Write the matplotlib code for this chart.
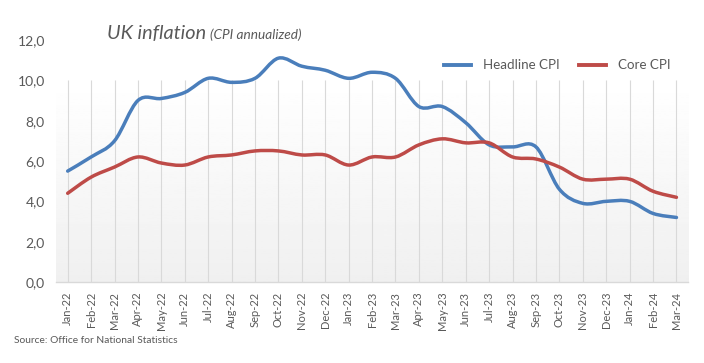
# UK inflation chart - headline vs core CPI
import numpy as np
import matplotlib.pyplot as plt
from matplotlib.path import Path
from matplotlib.patches import PathPatch
from matplotlib.lines import Line2D

# ---------------- Data ----------------
months = ["Jan-22", "Feb-22", "Mar-22", "Apr-22", "May-22", "Jun-22", "Jul-22",
          "Aug-22", "Sep-22", "Oct-22", "Nov-22", "Dec-22", "Jan-23", "Feb-23",
          "Mar-23", "Apr-23", "May-23", "Jun-23", "Jul-23", "Aug-23", "Sep-23",
          "Oct-23", "Nov-23", "Dec-23", "Jan-24", "Feb-24", "Mar-24"]
headline = [5.5, 6.2, 7.0, 9.0, 9.1, 9.4, 10.1, 9.9, 10.1, 11.1, 10.7, 10.5, 10.1,
            10.4, 10.1, 8.7, 8.7, 7.9, 6.8, 6.7, 6.7, 4.6, 3.9, 4.0, 4.0, 3.4, 3.2]
core = [4.4, 5.2, 5.7, 6.2, 5.9, 5.8, 6.2, 6.3, 6.5, 6.5, 6.3, 6.3, 5.8,
        6.2, 6.2, 6.8, 7.1, 6.9, 6.9, 6.2, 6.1, 5.7, 5.1, 5.1, 5.1, 4.5, 4.2]
yticks = [0, 2, 4, 6, 8, 10, 12]

plt.rcParams['font.family'] = ['Lato', 'DejaVu Sans']
grey = '#595959'


def smooth_path(xs, ys):
    # excel style smoothed line: cubic bezier with catmull-rom tangents
    pts = np.column_stack([xs, ys]).astype(float)
    n = len(pts)
    verts = [pts[0]]
    codes = [Path.MOVETO]
    for i in range(n - 1):
        p0 = pts[max(i - 1, 0)]
        p1 = pts[i]
        p2 = pts[i + 1]
        p3 = pts[min(i + 2, n - 1)]
        c1 = p1 + (p2 - p0) / 6
        c2 = p2 - (p3 - p1) / 6
        verts += [c1, c2, p2]
        codes += [Path.CURVE4] * 3
    return Path(verts, codes)


fig = plt.figure(figsize=(7.04, 3.63), dpi=100)
ax = fig.add_axes([0.0795, 0.2231, 0.898, 0.6667])

x = np.arange(len(months))
ax.set_xlim(-0.5, len(months) - 0.5)
ax.set_ylim(0, 12)

# plot area background (white to light grey)
grad = np.linspace(1.0, 0.94, 100).reshape(-1, 1)
ax.imshow(grad, cmap='gray', vmin=0, vmax=1, aspect='auto',
          extent=(-0.5, len(months) - 0.5, 0, 10), zorder=0)
ax.vlines(x, 0, 10, color='#d9d9d9', linewidth=0.8, zorder=1)

colors = {'Headline CPI': '#4A7EBB', 'Core CPI': '#BE4B48'}
for name, vals in [('Headline CPI', headline), ('Core CPI', core)]:
    ax.add_patch(PathPatch(smooth_path(x, vals), facecolor='none',
                           edgecolor=colors[name], linewidth=2.5,
                           capstyle='round', zorder=3))

for s in ['top', 'right', 'left']:
    ax.spines[s].set_visible(False)
ax.spines['bottom'].set_color('#d9d9d9')
ax.spines['bottom'].set_linewidth(1.0)

ax.set_yticks(yticks)
ax.set_yticklabels([f"{v:.1f}".replace('.', ',') for v in yticks],
                   fontsize=10, color=grey)
ax.set_xticks(x)
ax.set_xticklabels(months, rotation=90, fontsize=8, color=grey)
ax.tick_params(axis='both', length=0)
ax.tick_params(axis='x', pad=7)
ax.tick_params(axis='y', pad=8)

fig.text(0.152, 0.893, 'UK inflation', fontsize=14.3, style='italic',
         color=grey, va='baseline')
fig.text(0.298, 0.893, '(CPI annualized)', fontsize=9.8, style='italic',
         color=grey, va='baseline')

handles = [Line2D([], [], color=c, linewidth=2.8) for c in colors.values()]
fig.legend(handles, list(colors.keys()), loc='center right',
           bbox_to_anchor=(0.962, 0.82), ncol=2, frameon=False,
           fontsize=9.6, labelcolor=grey, handlelength=2.0,
           handletextpad=0.9, columnspacing=1.5, borderpad=0)

fig.text(0.02, 0.055, 'Source: Office for National Statistics',
         fontsize=7.4, color=grey)

fig.savefig('out.png', dpi=100)
